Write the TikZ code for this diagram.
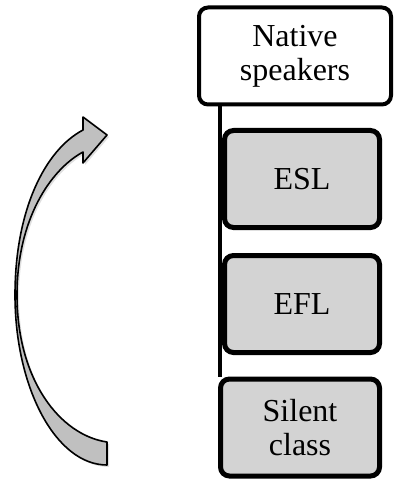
\documentclass[tikz,border=0pt]{standalone}
\usepackage{fontspec}
\setmainfont{Liberation Serif}
\begin{document}
\begin{tikzpicture}[x=1pt,y=-1pt,
  lbl/.style={align=center,font=\fontsize{32}{34}\selectfont,text=black},
  topbox/.style={lbl,draw=black,line width=4pt,rounded corners=9pt,fill=white,inner sep=0pt,minimum width=192pt,minimum height=97pt},
  graybox/.style={lbl,draw=black,line width=5pt,rounded corners=9pt,fill=boxgray,inner sep=0pt,minimum width=155pt,minimum height=97pt},
  arrowshape/.style={draw=black,line width=1.6pt,fill=arrowgray,line join=round},
  stem/.style={draw=black,line width=3.5pt}]
\definecolor{boxgray}{RGB}{211,211,211}
\definecolor{arrowgray}{RGB}{192,192,192}
\useasboundingbox (0,0) rectangle (395,481);
\node[topbox] (top) at (295,56) {Native\\speakers};
\node[graybox] (esl) at (302,179) {ESL};
\node[graybox] (efl) at (302,304) {EFL};
\node[graybox,minimum width=159pt] (sil) at (300,427.5) {Silent\\class};
\coordinate (s1) at (top.south -| 220,0);
\coordinate (s2) at (sil.north -| 220,0);
\path[stem] (s1) -- (s2);
% curved block arrow
\fill[black!25,xshift=2pt,yshift=-2pt,opacity=0.5]
  (107,465) .. controls (56,465) and (15,388) .. (15,295)
  .. controls (15,210) and (45,150) .. (83,130)
  -- (83,117) -- (107,135) -- (83,163) -- (83,152)
  .. controls (50,170) and (17,220) .. (17,295)
  .. controls (17,380) and (60,435) .. (107,442) -- cycle;
\draw[arrowshape]
  (107,465) .. controls (56,465) and (15,388) .. (15,295)
  .. controls (15,210) and (45,150) .. (83,130)
  -- (83,117) -- (107,135) -- (83,163) -- (83,152)
  .. controls (50,170) and (17,220) .. (17,295)
  .. controls (17,380) and (60,435) .. (107,442) -- cycle;
\end{tikzpicture}
\end{document}
